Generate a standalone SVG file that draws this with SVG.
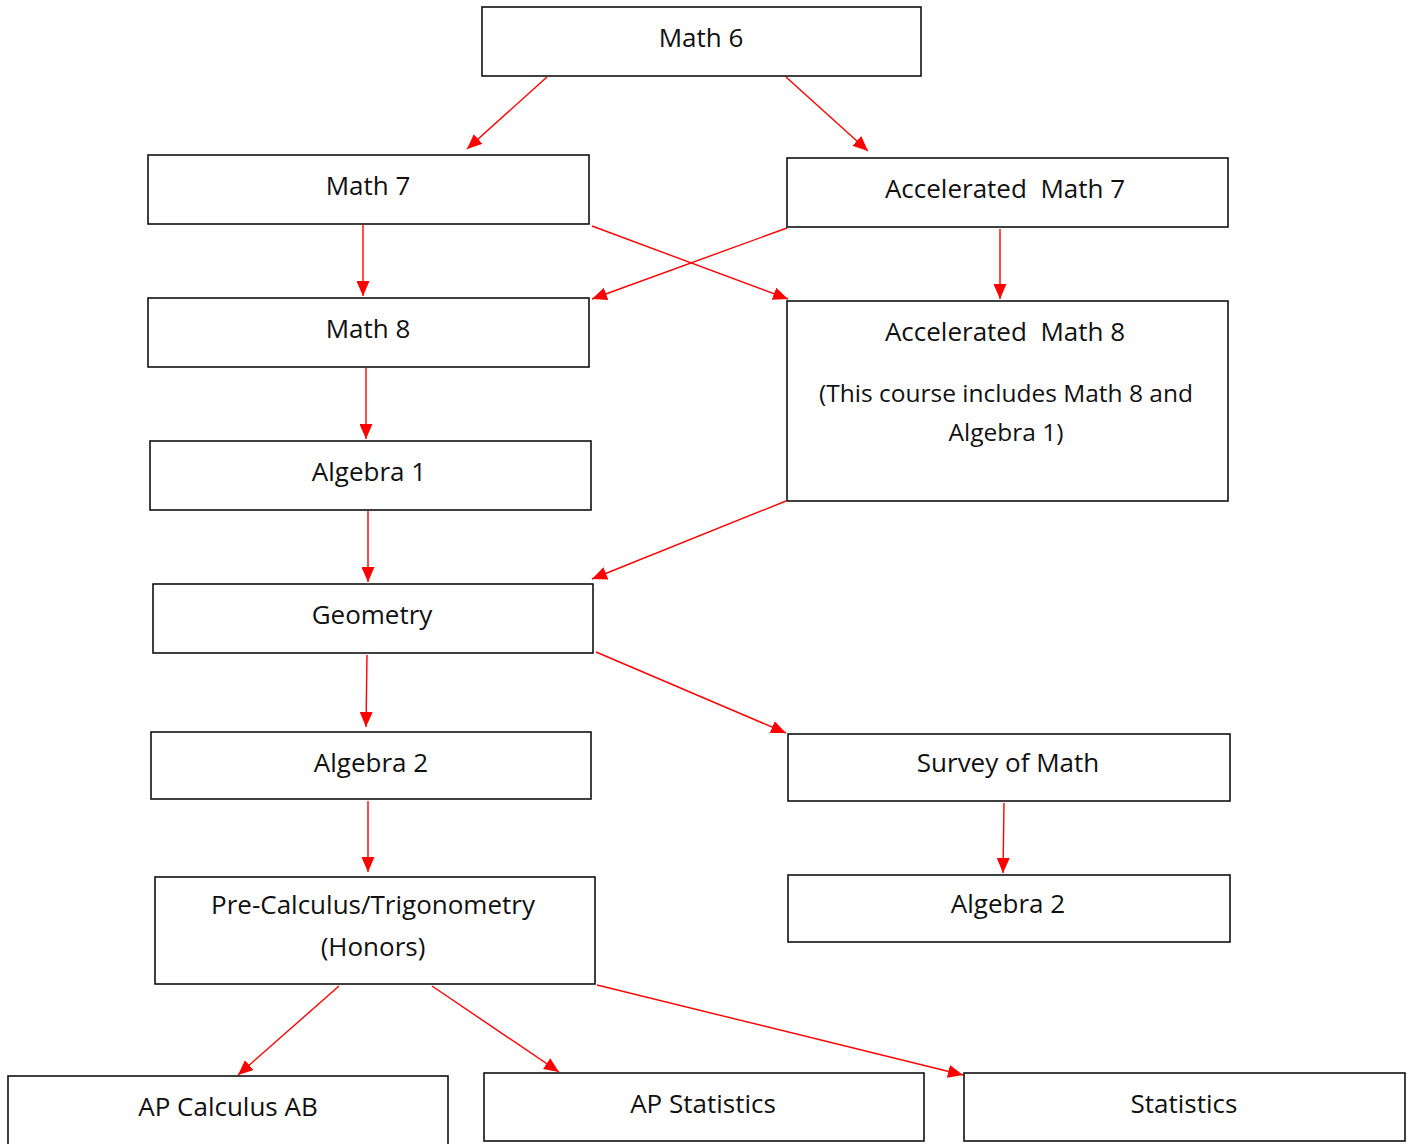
<svg xmlns="http://www.w3.org/2000/svg" width="1413" height="1144" viewBox="0 0 1413 1144">
<style>
.box{fill:#fff;stroke:#111;stroke-width:1.6}
.t{font-family:"Open Sans","Liberation Sans",Arial,sans-serif;font-size:26px;fill:#111;text-anchor:middle;white-space:pre}
.s{font-family:"Open Sans","Liberation Sans",Arial,sans-serif;font-size:24.5px;fill:#111;text-anchor:middle}
.c{stroke:#ff0000;stroke-width:1.4;fill:none;marker-end:url(#ah)}
</style>
<defs>
<marker id="ah" markerUnits="userSpaceOnUse" markerWidth="16" markerHeight="13" refX="15" refY="6.5" orient="auto">
<path d="M0,0 L15,6.5 L0,13 z" fill="#ff0000"/>
</marker>
</defs>
<rect width="1413" height="1144" fill="#fff"/>
<g id="connectors">
<line class="c" x1="547" y1="77" x2="467" y2="149"/>
<line class="c" x1="786" y1="77" x2="868" y2="151"/>
<line class="c" x1="363" y1="225" x2="363" y2="296"/>
<line class="c" x1="592" y1="226" x2="788" y2="299"/>
<line class="c" x1="787" y1="228" x2="592" y2="299"/>
<line class="c" x1="1000" y1="229" x2="1000" y2="299"/>
<line class="c" x1="366" y1="368" x2="366" y2="439"/>
<line class="c" x1="368" y1="511" x2="368" y2="582"/>
<line class="c" x1="786" y1="501" x2="592" y2="579"/>
<line class="c" x1="367" y1="655" x2="366" y2="727"/>
<line class="c" x1="596" y1="652" x2="786" y2="733"/>
<line class="c" x1="368" y1="801" x2="368" y2="872"/>
<line class="c" x1="1004" y1="803" x2="1003" y2="873"/>
<line class="c" x1="339" y1="986" x2="238" y2="1075"/>
<line class="c" x1="432" y1="986" x2="559" y2="1072"/>
<line class="c" x1="597" y1="985" x2="963" y2="1075"/>
</g>
<g id="math6"><rect class="box" x="482" y="7" width="439" height="69"/><text class="t" x="701" y="47">Math 6</text></g>
<g id="math7"><rect class="box" x="148" y="155" width="441" height="69"/><text class="t" x="368" y="195">Math 7</text></g>
<g id="accmath7"><rect class="box" x="787" y="158" width="441" height="69"/><text class="t" x="1005" y="198" xml:space="preserve">Accelerated  Math 7</text></g>
<g id="math8"><rect class="box" x="148" y="298" width="441" height="69"/><text class="t" x="368" y="338">Math 8</text></g>
<g id="accmath8"><rect class="box" x="787" y="301" width="441" height="200"/><text class="t" x="1005" y="341" xml:space="preserve">Accelerated  Math 8</text><text class="s" x="1006" y="402">(This course includes Math 8 and</text><text class="s" x="1006" y="441">Algebra 1)</text></g>
<g id="algebra1"><rect class="box" x="150" y="441" width="441" height="69"/><text class="t" x="369" y="481">Algebra 1</text></g>
<g id="geometry"><rect class="box" x="153" y="584" width="440" height="69"/><text class="t" x="372" y="624">Geometry</text></g>
<g id="algebra2a"><rect class="box" x="151" y="732" width="440" height="67"/><text class="t" x="371" y="772">Algebra 2</text></g>
<g id="survey"><rect class="box" x="788" y="734" width="442" height="67"/><text class="t" x="1008" y="772">Survey of Math</text></g>
<g id="algebra2b"><rect class="box" x="788" y="875" width="442" height="67"/><text class="t" x="1008" y="913">Algebra 2</text></g>
<g id="precalc"><rect class="box" x="155" y="877" width="440" height="107"/><text class="t" x="373" y="914">Pre-Calculus/Trigonometry</text><text class="t" x="373" y="956">(Honors)</text></g>
<g id="apcalc"><rect class="box" x="8" y="1076" width="440" height="80"/><text class="t" x="228" y="1116">AP Calculus AB</text></g>
<g id="apstats"><rect class="box" x="484" y="1073" width="440" height="68"/><text class="t" x="703" y="1113">AP Statistics</text></g>
<g id="stats"><rect class="box" x="964" y="1073" width="441" height="68"/><text class="t" x="1184" y="1113">Statistics</text></g>
</svg>
